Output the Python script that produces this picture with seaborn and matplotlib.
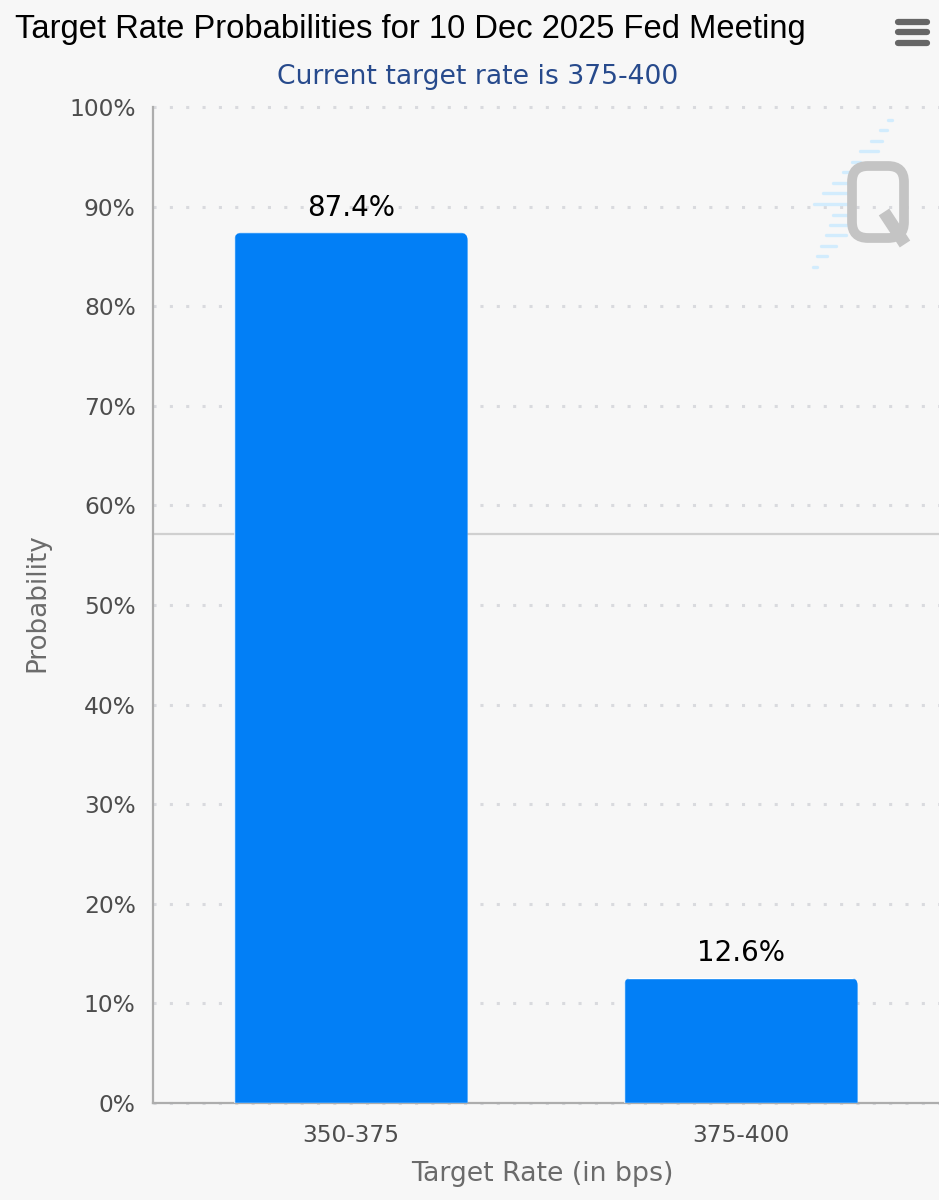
import matplotlib
matplotlib.use('Agg')
import matplotlib.pyplot as plt
import pandas as pd
import seaborn as sns
from matplotlib.lines import Line2D
from matplotlib.patches import FancyBboxPatch

# chart data
target_rates = ['350-375', '375-400']
probabilities = [87.4, 12.6]
y_ticks = [0, 10, 20, 30, 40, 50, 60, 70, 80, 90, 100]
y_tick_labels = ['0%', '10%', '20%', '30%', '40%', '50%', '60%', '70%', '80%', '90%', '100%']
band_line = 57.15

W, H = 939, 1200
BG = '#f7f7f7'
BLUE = '#027ff6'

sns.set_theme(style='white')
plt.rcParams['font.family'] = ['DejaVu Sans']

df = pd.DataFrame({'rate': target_rates, 'prob': probabilities})

fig = plt.figure(figsize=(W / 100, H / 100), dpi=100, facecolor=BG)
ax = fig.add_axes([153 / W, (H - 1103) / H, 786 / W, 996 / H], facecolor=BG)

sns.barplot(data=df, x='rate', y='prob', color=BLUE, saturation=1, width=0.5985, ax=ax, zorder=3)
ax.set_xlim(-0.5077, 1.5077)
ax.set_ylim(0, 100)

# rounded top corners on the bars
px_x = 786 / (1.5077 + 0.5077)
px_y = 996 / 100
radius = 8 / px_x
for bar in ax.patches:
    clip = FancyBboxPatch((bar.get_x() + radius, -20), bar.get_width() - 2 * radius,
                          bar.get_height() + 20 - radius * px_x / px_y,
                          boxstyle='round,pad=0,rounding_size=%f' % radius,
                          mutation_aspect=px_x / px_y, transform=ax.transData)
    clip.set_boxstyle('round', pad=radius, rounding_size=radius)
    bar.set_clip_path(clip)

# dotted grid
ax.grid(False)
for y in y_ticks:
    ax.axhline(y, color='#d9dade', lw=2.2, linestyle=(0, (1, 4.35)), zorder=1, clip_on=False)
ax.axhline(band_line, color='#d0d0d0', lw=1.6, zorder=2)

ax.set_yticks(y_ticks)
ax.set_yticklabels(y_tick_labels)
ax.tick_params(axis='y', length=12.5, width=1.2, color='#d6d8de', labelsize=16.8, labelcolor='#4d4d4d', pad=0)
ax.tick_params(axis='x', length=13.5, width=1.2, color='#d6d8de', labelsize=16.8, labelcolor='#4d4d4d', pad=1.5)

for side in ['top', 'right']:
    ax.spines[side].set_visible(False)
for side in ['left', 'bottom']:
    ax.spines[side].set_color('#adadad')
    ax.spines[side].set_linewidth(1.6)

ax.set_xlabel('Target Rate (in bps)', fontsize=19.3, color='#6b6b6b')
ax.set_ylabel('Probability', fontsize=18.8, color='#6b6b6b')
ax.xaxis.set_label_coords(0.496, -0.0715)
ax.yaxis.set_label_coords(-0.1465, 0.5025)
ax.yaxis.label.set_verticalalignment('center')
ax.xaxis.label.set_verticalalignment('center')

for container in ax.containers:
    ax.bar_label(container, labels=['%.1f%%' % p for p in container.datavalues],
                 fontsize=20, color='black', padding=7.5)

# title and subtitle
fig.text(15 / W, 1 - 29.5 / H, 'Target Rate Probabilities for 10 Dec 2025 Fed Meeting',
         family='Liberation Sans', fontsize=23.55, color='black', va='center', ha='left')
fig.text(477.5 / W, 1 - 77.5 / H, 'Current target rate is 375-400',
         fontsize=19.2, color='#274a8c', va='center', ha='center')

# hamburger menu
for y in [21.5, 32, 42.5]:
    fig.add_artist(Line2D([898 / W, 927 / W], [1 - y / H, 1 - y / H], color='#666666', lw=4.5,
                          solid_capstyle='round'))

# watermark
dashes = [(325, 335, 360), (300, 320, 390), (272, 305, 422), (240, 295, 453), (215, 240, 485),
          (190, 215, 517), (158, 205, 548), (130, 205, 580), (103, 205, 612), (160, 205, 644),
          (150, 215, 675), (138, 198, 706), (122, 168, 737), (110, 140, 768), (98, 112, 800)]
for x0, x1, y in dashes:
    fig.add_artist(Line2D([(780 + x0 / 3) / W, (780 + x1 / 3) / W], [1 - y / 3 / H, 1 - y / 3 / H],
                          color='#d2ecfd', lw=2.4, zorder=1))

# the Q is a rounded outline with a tail, in pixel coordinates
q_ring = FancyBboxPatch((868, H - 222), 20, 40, boxstyle='round,pad=16,rounding_size=16',
                        facecolor='none', edgecolor='#c4c4c4', lw=7, transform=None, zorder=2)
fig.add_artist(q_ring)
fig.add_artist(Line2D([884 / W, 905 / W], [1 - 212 / H, 1 - 244 / H], color='#c4c4c4', lw=9,
                      solid_capstyle='butt', zorder=2))

fig.savefig('out.png', dpi=100, facecolor=BG)
